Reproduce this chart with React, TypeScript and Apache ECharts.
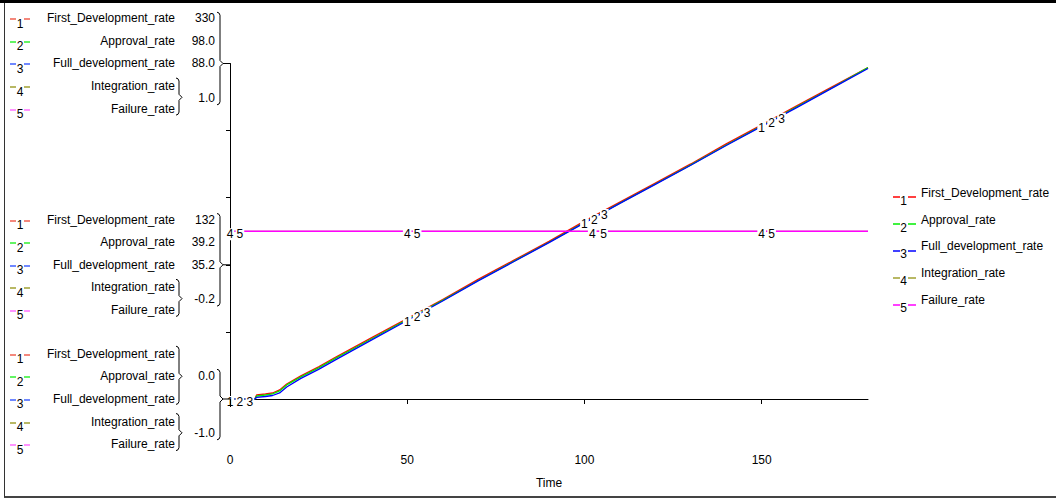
import React, { useEffect, useRef } from "react";
import * as echarts from "echarts";

// ---- data ----
const times = [0, 7, 7.5, 10, 12, 14, 16, 20, 25, 30, 40, 50, 60, 70, 80, 90, 100, 110, 120, 130, 140, 150, 160, 170, 180];
const firstDevelopmentRate = [0, 0, 4.0, 4.9, 5.9, 8.9, 14.8, 22.7, 31.6, 41.5, 60.3, 79.0, 97.8, 117.6, 136.3, 155.1, 174.9, 193.6, 212.4, 231.2, 251.0, 269.7, 288.5, 307.3, 326.0];
const approvalRate = [0, 0, 0.88, 1.17, 1.47, 2.35, 4.11, 6.45, 9.1, 12.0, 17.6, 23.2, 28.8, 34.6, 40.2, 45.8, 51.6, 57.2, 62.8, 68.4, 74.2, 79.8, 85.4, 91.0, 96.8];
const fullDevelopmentRate = [0, 0, 0.4, 0.66, 0.92, 1.58, 3.16, 5.4, 7.77, 10.4, 15.5, 20.6, 25.7, 31.0, 36.0, 41.0, 46.2, 51.3, 56.3, 61.3, 66.5, 71.5, 76.5, 81.6, 86.7];
const integrationRate = [0, 0, 0, 0, 0, 0, 0, 0, 0, 0, 0, 0, 0, 0, 0, 0, 0, 0, 0, 0, 0, 0, 0, 0, 0];
const failureRate = [0, 0, 0, 0, 0, 0, 0, 0, 0, 0, 0, 0, 0, 0, 0, 0, 0, 0, 0, 0, 0, 0, 0, 0, 0];

const seriesNames = ["First_Development_rate", "Approval_rate", "Full_development_rate", "Integration_rate", "Failure_rate"];
const seriesDigits = ["1", "2", "3", "4", "5"];
const seriesColors = ["#ff0000", "#00ee00", "#0000ff", "#a0a030", "#ff00ff"];
const legendColors = ["#f06050", "#30f030", "#4060ff", "#a0a030", "#ff70ff"];
const seriesAxis = [0, 1, 2, 3, 3];
const seriesWidths = [1.3, 1.3, 1.3, 1, 1.7];

// scales (min / max of each y scale)
const scaleMin = [0, 0, 0, -1];
const scaleMax = [330, 98, 88, 1];

// times at which each line carries its number label
const labelTimes = [
  [0, 50, 100, 150],
  [2.8, 52.8, 102.8, 152.8],
  [5.6, 55.6, 105.6, 155.6],
  [0, 50, 102.2, 150],
  [2.8, 52.8, 105.4, 152.8],
];

// left scale labels
const topTickLabels = ["330", "98.0", "88.0", "1.0"];
const midTickLabels = ["132", "39.2", "35.2", "-0.2"];
const bottomTickLabels = ["0.0", "-1.0"];

const xTickInterval = 50;
const xMax = 180;

// ---- layout ----
const W = 1056;
const H = 499;
const GL = 230;
const GR = 868;
const GT = 63.5;
const GB = 399;
const FONT = '12px Arial, "Liberation Sans", sans-serif';

function interp(ts: number[], vs: number[], t: number) {
  if (t <= ts[0]) return vs[0];
  for (let i = 1; i < ts.length; i++) {
    if (t <= ts[i]) {
      const f = (t - ts[i - 1]) / (ts[i] - ts[i - 1]);
      return vs[i - 1] + f * (vs[i] - vs[i - 1]);
    }
  }
  return vs[vs.length - 1];
}

function txt(x: number, y: number, text: string, align: string, fill = "#000") {
  return {
    type: "text",
    x,
    y,
    silent: true,
    z: 10,
    style: {
      text,
      fill,
      font: FONT,
      textAlign: align,
      textVerticalAlign: "middle",
      align,
      verticalAlign: "middle",
    },
  };
}

function seg(x1: number, y1: number, x2: number, y2: number, stroke: string, lw = 1) {
  return { type: "line", silent: true, z: 10, shape: { x1, y1, x2, y2 }, style: { stroke, lineWidth: lw } };
}

function brace(x: number, y0: number, y1: number, tip: number) {
  return {
    type: "polyline",
    silent: true,
    z: 10,
    shape: {
      points: [
        [x, y0],
        [x + 2, y0 + 0.8],
        [x + 3, y0 + 3],
        [x + 3, tip - 3],
        [x + 6, tip],
        [x + 3, tip + 3],
        [x + 3, y1 - 3],
        [x + 2, y1 - 0.8],
        [x, y1],
      ],
    },
    style: { stroke: "#000", lineWidth: 1, fill: null },
  };
}

export default function App() {
  const ref = useRef<HTMLDivElement>(null);

  useEffect(() => {
    if (!ref.current) return;
    const chart = echarts.init(ref.current, null, { renderer: "svg", width: W, height: H });

    const seriesData = [firstDevelopmentRate, approvalRate, fullDevelopmentRate, integrationRate, failureRate];
    const tickStep = (GB - GT) / 5;
    const tickY = (k: number) => GB - k * tickStep;

    const graphics: any[] = [];
    // frame
    graphics.push({ type: "rect", silent: true, shape: { x: 0, y: 0, width: W, height: 3 }, style: { fill: "#000" } });
    graphics.push(seg(4.5, 3, 4.5, 497, "#333"));
    graphics.push({ type: "rect", silent: true, shape: { x: 4, y: 496, width: W - 4, height: 2 }, style: { fill: "#444" } });
    // y-axis extension below the x axis
    graphics.push(seg(GL + 0.5, GB, GL + 0.5, GB + 8, "#000"));

    // left legend groups
    const rowY = (T: number, i: number) => T - 45.3 + 22.6 * i;
    const groupRows = (T: number) => {
      for (let i = 0; i < 5; i++) {
        const y = rowY(T, i);
        const c = legendColors[i];
        const dy = Math.round(y + 1);
        graphics.push(seg(10, dy, 16, dy, c, 1.5));
        graphics.push(seg(24, dy, 30, dy, c, 1.5));
        graphics.push(txt(20, y + 5.5, seriesDigits[i], "center"));
        graphics.push(txt(175, y, seriesNames[i], "right"));
      }
    };
    const VX = 215;
    const groupSeparate = (T: number, labels: string[]) => {
      groupRows(T);
      for (let i = 0; i < 3; i++) graphics.push(txt(VX, rowY(T, i), labels[i], "right"));
      const y45 = (rowY(T, 3) + rowY(T, 4)) / 2;
      graphics.push(txt(VX, y45 + 0.5, labels[3], "right"));
      graphics.push(brace(176, rowY(T, 3) - 8, rowY(T, 4) + 6.5, y45));
      graphics.push(brace(217, rowY(T, 0) - 6, y45 + 7.5, T));
      graphics.push(seg(223, T, GL, T, "#000"));
    };
    groupSeparate(tickY(5), topTickLabels);
    groupSeparate(tickY(2), midTickLabels);
    {
      const T = tickY(0);
      groupRows(T);
      const y13 = rowY(T, 1);
      const y45 = (rowY(T, 3) + rowY(T, 4)) / 2;
      graphics.push(txt(VX, y13, bottomTickLabels[0], "right"));
      graphics.push(txt(VX, y45, bottomTickLabels[1], "right"));
      graphics.push(brace(176, rowY(T, 0) - 7.5, rowY(T, 2) + 5.5, y13));
      graphics.push(brace(176, rowY(T, 3) - 8, rowY(T, 4) + 6.5, y45));
      graphics.push(brace(217, y13 - 7, y45 + 7, T));
      graphics.push(seg(223, T, GL, T, "#000"));
    }

    // right legend
    for (let i = 0; i < 5; i++) {
      const R = 192.7 + 26.8 * i;
      const c = seriesColors[i];
      const dy = Math.round(R + 4.6);
      graphics.push(seg(893, dy, 900, dy, c, 1.5));
      graphics.push(seg(908, dy, 916, dy, c, 1.5));
      graphics.push(txt(903.5, R + 8, seriesDigits[i], "center"));
      graphics.push(txt(921, R, seriesNames[i], "left"));
    }

    const yAxes = scaleMin.map((mn, i) => ({
      type: "value",
      min: mn,
      max: scaleMax[i],
      show: i === 0,
      position: "left",
      ...(i === 0 ? { interval: (scaleMax[0] - scaleMin[0]) / 5 } : {}),
      axisLine: { show: i === 0, lineStyle: { color: "#000", width: 1 } },
      axisTick: { show: i === 0, length: 4, lineStyle: { color: "#000" } },
      axisLabel: { show: false },
      splitLine: { show: false },
    }));

    const series = seriesNames.map((name, s) => ({
      name,
      type: "line",
      yAxisIndex: seriesAxis[s],
      data: times.map((t, i) => [t, seriesData[s][i]]),
      showSymbol: false,
      symbol: "none",
      lineStyle: { color: seriesColors[s], width: seriesWidths[s] },
      itemStyle: { color: seriesColors[s] },
      z: 2 + s * 0.1,
      silent: true,
      markPoint: {
        z: 5,
        symbol: "circle",
        symbolSize: 1,
        silent: true,
        itemStyle: { color: "rgba(0,0,0,0)" },
        label: {
          show: true,
          position: "inside",
          offset: [0, 3],
          color: "#000",
          fontSize: 12,
          fontFamily: 'Arial, "Liberation Sans", sans-serif',
          backgroundColor: "#fff",
          padding: [0, 1],
          formatter: seriesDigits[s],
        },
        data: labelTimes[s].map((t) => ({ coord: [t, interp(times, seriesData[s], t)], value: seriesDigits[s] })),
      },
    }));

    chart.setOption({
      animation: false,
      backgroundColor: "#fff",
      grid: { left: GL, right: W - GR, top: GT, bottom: H - GB, containLabel: false },
      xAxis: {
        type: "value",
        min: 0,
        max: xMax,
        interval: xTickInterval,
        name: "Time",
        nameLocation: "middle",
        nameGap: 78,
        nameTextStyle: { color: "#000", fontSize: 12, fontFamily: 'Arial, "Liberation Sans", sans-serif' },
        axisLine: { onZero: false, lineStyle: { color: "#000", width: 1 } },
        axisTick: { show: true, length: 5, lineStyle: { color: "#000" } },
        axisLabel: {
          color: "#000",
          fontSize: 12,
          fontFamily: 'Arial, "Liberation Sans", sans-serif',
          margin: 55,
          showMaxLabel: false,
        },
        splitLine: { show: false },
      },
      yAxis: yAxes,
      series,
      graphic: graphics,
    });

    return () => chart.dispose();
  }, []);

  return <div ref={ref} style={{ position: "fixed", left: 0, top: 0, width: W, height: H, background: "#fff" }} />;
}
